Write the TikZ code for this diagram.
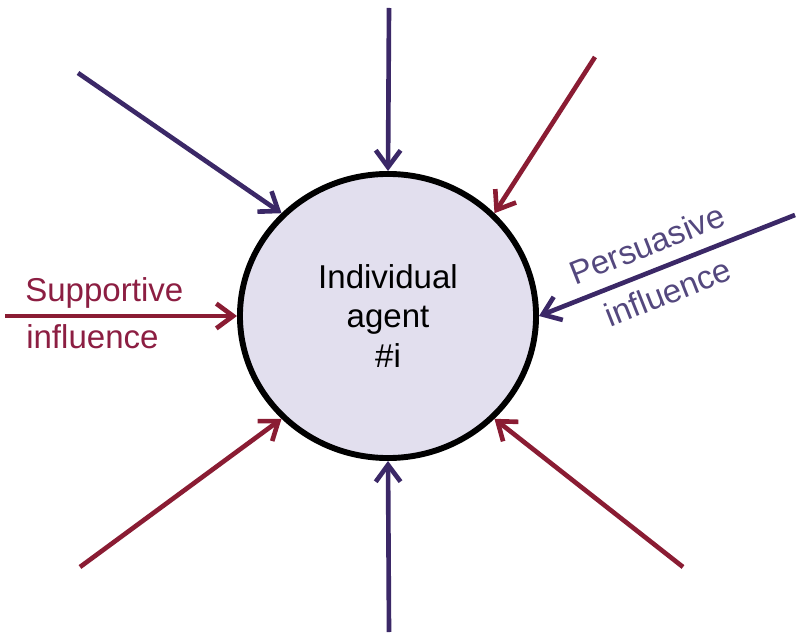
\documentclass[tikz,border=0pt]{standalone}
\usepackage{fontspec}
\setmainfont{Liberation Sans}
\usepackage{xcolor}
\usetikzlibrary{arrows.meta,shapes.geometric}
\definecolor{persblue}{HTML}{3B2867}
\definecolor{suppred}{HTML}{8A1C33}
\definecolor{perstext}{HTML}{54487E}
\definecolor{supptext}{HTML}{8C1E42}
\definecolor{agentfill}{HTML}{E2DFEE}

\begin{document}
\begin{tikzpicture}[x=0.025cm, y=-0.025cm, >={Straight Barb[length=0.42cm, width=0.62cm]},
        agent/.style={ellipse, draw, line width=4.2pt, fill=agentfill, minimum width=7.4cm, minimum height=7.1cm, align=center, font=\fontsize{23.5}{28.4}\selectfont},
        persarrow/.style={->, line width=3.3pt, persblue},
        supparrow/.style={->, line width=3.3pt, suppred},
        lbl/.style={inner sep=0pt, font=\fontsize{23.5}{28.4}\selectfont}]
        \useasboundingbox (0, 0) rectangle (800, 642);
        \node[agent] (agent) at (388, 316) {Individual\\agent\\\#i};
        % free ends of the influences
        \coordinate (n) at (389, 8);
        \coordinate (ne) at (595, 57);
        \coordinate (nw) at (78, 73);
        \coordinate (w) at (5, 316);
        \coordinate (e) at (795, 215);
        \coordinate (sw) at (80, 567);
        \coordinate (se) at (683, 567);
        \coordinate (s) at (389, 632);
        \draw[persarrow] (n) -- (agent.90);
        \draw[supparrow] (ne) -- (agent.44);
        \draw[persarrow] (nw) -- (agent.136);
        \draw[supparrow] (w) -- (agent.180);
        \draw[persarrow] (e) -- (agent.0);
        \draw[supparrow] (sw) -- (agent.224);
        \draw[supparrow] (se) -- (agent.316);
        \draw[persarrow] (s) -- (agent.270);
        % labels
        \node[lbl, supptext, anchor=base west] (supp1) at (25, 302) {Supportive};
        \node[lbl, supptext, anchor=base west] (supp2) at (26, 348) {influence};
        \node[lbl, perstext, rotate=21.6] (pers1) at (647, 244) {Persuasive};
        \node[lbl, perstext, rotate=21.6] (pers2) at (668, 292) {influence};
\end{tikzpicture}
\end{document}
